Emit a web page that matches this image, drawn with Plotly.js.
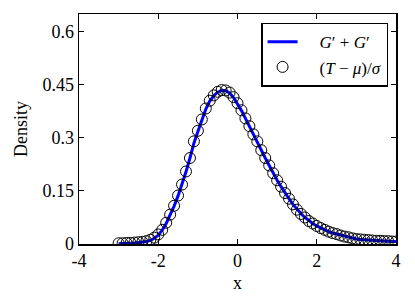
<!DOCTYPE html>
<html>
<head>
<meta charset="utf-8">
<script src="https://cdn.plot.ly/plotly-3.0.1.min.js"></script>
<style>html,body{margin:0;padding:0;background:#fff;}#chart{width:415px;height:306px;}</style>
</head>
<body>
<div id="chart"></div>
<script>
// Sample positions (x)
const xVals = [-3.0,-2.9,-2.8,-2.7,-2.6,-2.5,-2.4,-2.3,-2.2,-2.1,-2.0,-1.9,-1.8,-1.7,-1.6,-1.5,-1.4,-1.3,-1.2,-1.1,-1.0,-0.9,-0.8,-0.7,-0.6,-0.5,-0.4,-0.3,-0.2,-0.1,0.0,0.1,0.2,0.3,0.4,0.5,0.6,0.7,0.8,0.9,1.0,1.1,1.2,1.3,1.4,1.5,1.6,1.7,1.8,1.9,2.0,2.1,2.2,2.3,2.4,2.5,2.6,2.7,2.8,2.9,3.0,3.1,3.2,3.3,3.4,3.5,3.6,3.7,3.8,3.9,4.0];
// G' + G' density (blue line)
const densityGG = [0.001,0.001,0.002,0.002,0.003,0.004,0.005,0.007,0.010,0.016,0.025,0.039,0.058,0.081,0.107,0.136,0.168,0.204,0.243,0.285,0.318,0.351,0.381,0.404,0.419,0.429,0.434,0.433,0.427,0.414,0.397,0.377,0.355,0.332,0.310,0.289,0.265,0.243,0.222,0.200,0.180,0.162,0.144,0.128,0.112,0.098,0.086,0.075,0.066,0.058,0.051,0.045,0.040,0.035,0.031,0.028,0.024,0.021,0.019,0.016,0.014,0.013,0.012,0.011,0.010,0.009,0.009,0.008,0.008,0.007,0.007];
// (T - mu)/sigma density (open circles)
const densityT = [0.002,0.002,0.003,0.003,0.004,0.005,0.006,0.008,0.012,0.018,0.027,0.040,0.060,0.083,0.108,0.137,0.168,0.205,0.243,0.290,0.320,0.352,0.383,0.405,0.420,0.430,0.435,0.434,0.428,0.415,0.398,0.378,0.355,0.333,0.310,0.290,0.265,0.243,0.222,0.200,0.180,0.162,0.144,0.128,0.112,0.097,0.085,0.075,0.065,0.058,0.051,0.045,0.040,0.035,0.031,0.028,0.024,0.021,0.019,0.016,0.014,0.013,0.012,0.011,0.010,0.009,0.009,0.008,0.008,0.007,0.007];
// Tick labels
const xTickVals = [-4,-2,0,2,4];
const xTickText = ["-4","-2","0","2","4"];
const yTickVals = [0,0.15,0.3,0.45,0.6];
const yTickText = ["0","0.15","0.3","0.45","0.6"];
const seriesNames = ["&nbsp;&nbsp;&nbsp;&nbsp;<i>G</i>′ + <i>G</i>′", "&nbsp;&nbsp;&nbsp;&nbsp;(<i>T</i> − <i>μ</i>)/<i>σ</i>"];

const FONT = "Liberation Serif, Times New Roman, serif";
const FS = 18;

const traces = [
  {x: xVals, y: densityGG, name: seriesNames[0], type: "scatter", mode: "lines",
   line: {color: "#0000ff", width: 3}},
  {x: xVals, y: densityT, name: seriesNames[1], type: "scatter", mode: "markers",
   marker: {symbol: "circle-open", size: 11, color: "#000000", line: {width: 1, color: "#000000"}}}
];

const axisCommon = {
  showgrid: false, zeroline: false, showline: true, linecolor: "#000", linewidth: 1.5,
  mirror: "ticks", ticks: "inside", ticklen: 5, tickwidth: 1, tickcolor: "#000",
  tickfont: {family: FONT, size: FS, color: "#000"}
};

const layout = {
  width: 415, height: 306,
  margin: {l: 79, r: 19, t: 14, b: 62},
  paper_bgcolor: "#fff", plot_bgcolor: "#fff",
  font: {family: FONT, size: FS, color: "#000"},
  xaxis: Object.assign({}, axisCommon, {
    range: [-4, 4], tickmode: "array", tickvals: xTickVals, ticktext: xTickText,
    title: {text: "x", font: {family: FONT, size: FS, color: "#000"}, standoff: 6}
  }),
  yaxis: Object.assign({}, axisCommon, {
    range: [0, 0.65], tickmode: "array", tickvals: yTickVals, ticktext: yTickText,
    title: {text: "Density", font: {family: FONT, size: FS, color: "#000"}, standoff: 10}
  }),
  showlegend: true,
  legend: {
    x: 0.975, y: 0.962, xanchor: "right", yanchor: "top",
    bgcolor: "#fff", bordercolor: "#000", borderwidth: 1.5,
    font: {family: FONT, size: 17, color: "#000"},
    tracegroupgap: 0, itemwidth: 30
  }
};

Plotly.newPlot("chart", traces, layout, {displayModeBar: false, staticPlot: true});
</script>
</body>
</html>
